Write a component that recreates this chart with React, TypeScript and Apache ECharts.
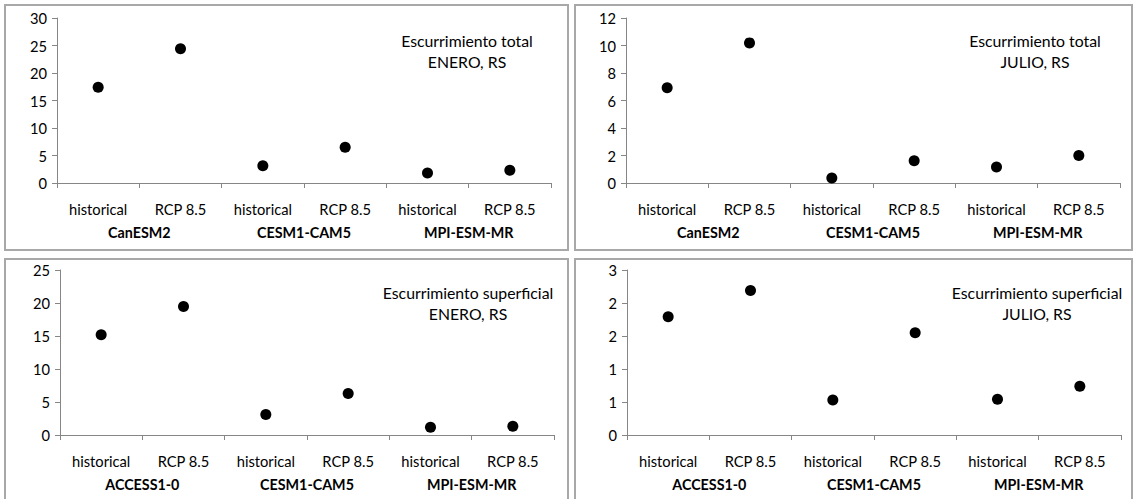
import React, { useEffect, useRef } from "react";
import * as echarts from "echarts";

const categories = ["historical", "RCP 8.5", "historical", "RCP 8.5", "historical", "RCP 8.5"];
const groupsTop = ["CanESM2", "CESM1-CAM5", "MPI-ESM-MR"];
const groupsBottom = ["ACCESS1-0", "CESM1-CAM5", "MPI-ESM-MR"];

const totalEnero = [17.4, 24.4, 3.15, 6.5, 1.8, 2.3];
const totalJulio = [6.93, 10.19, 0.36, 1.62, 1.16, 2.0];
const superficialEnero = [15.19, 19.46, 3.1, 6.3, 1.17, 1.32];
const superficialJulio = [1.79, 2.19, 0.53, 1.55, 0.54, 0.74];

const panelTitles = [
  ["Escurrimiento total", "ENERO, RS"],
  ["Escurrimiento total", "JULIO, RS"],
  ["Escurrimiento superficial", "ENERO, RS"],
  ["Escurrimiento superficial", "JULIO, RS"],
];

const yMax = [30, 12, 25, 2.5];
const yStep = [5, 2, 5, 0.5];

const FONT = "Lato";
const TXT = "#000000";
const AX = "#868686";

export default function App() {
  const ref = useRef<HTMLDivElement>(null);
  useEffect(() => {
    if (!ref.current) return;
    const chart = echarts.init(ref.current, null, { renderer: "svg" });

    const grids = [
      { left: 57, top: 18, width: 494, height: 165 },
      { left: 626, top: 18, width: 494, height: 165 },
      { left: 60, top: 270, width: 494, height: 165 },
      { left: 627, top: 270, width: 494, height: 165 },
    ];
    const seriesData = [totalEnero, totalJulio, superficialEnero, superficialJulio];
    const groupNames = [groupsTop, groupsTop, groupsBottom, groupsBottom];

    const xAxis: any[] = [];
    const yAxis: any[] = [];
    const series: any[] = [];
    grids.forEach((g, i) => {
      xAxis.push({
        type: "category",
        gridIndex: i,
        data: categories,
        position: "bottom",
        axisLine: { lineStyle: { color: AX, width: 1 } },
        axisTick: { show: true, length: 5, lineStyle: { color: AX } },
        axisLabel: { color: TXT, fontFamily: FONT, fontSize: 14.7, margin: 18 },
        splitLine: { show: false },
      });
      xAxis.push({
        type: "category",
        gridIndex: i,
        data: groupNames[i],
        position: "bottom",
        offset: 24,
        axisLine: { show: false },
        axisTick: { show: false },
        axisLabel: { color: TXT, fontFamily: FONT, fontSize: 14.3, fontWeight: "bold", margin: 18 },
        splitLine: { show: false },
      });
      yAxis.push({
        type: "value",
        gridIndex: i,
        min: 0,
        max: yMax[i],
        interval: yStep[i],
        axisLine: { show: true, lineStyle: { color: AX, width: 1 } },
        axisTick: { show: true, length: 5, lineStyle: { color: AX } },
        axisLabel: {
          color: TXT,
          fontFamily: FONT,
          fontSize: 14.7,
          margin: 10,
          formatter: i === 3 ? (v: number) => String(Math.round(v)) : undefined,
        },
        splitLine: { show: false },
      });
      series.push({
        type: "scatter",
        xAxisIndex: i * 2,
        yAxisIndex: i,
        data: seriesData[i],
        symbol: "circle",
        symbolSize: 11,
        itemStyle: { color: "#000000", opacity: 1 },
      });
    });

    const borders = [
      { x: 5, y: 5, w: 563, h: 245 },
      { x: 575, y: 5, w: 557, h: 245 },
      { x: 5, y: 259, w: 563, h: 245 },
      { x: 575, y: 259, w: 557, h: 245 },
    ];
    const titleCenters = [
      { x: 467, y: 40 },
      { x: 1035, y: 40 },
      { x: 468, y: 292 },
      { x: 1037, y: 292 },
    ];
    const graphic: any[] = [];
    borders.forEach((b) => {
      graphic.push({
        type: "rect",
        shape: { x: b.x, y: b.y, width: b.w, height: b.h },
        style: { fill: "none", stroke: "#a8a8a8", lineWidth: 2 },
        silent: true,
      });
    });
    titleCenters.forEach((c, i) => {
      panelTitles[i].forEach((t, j) => {
        graphic.push({
          type: "text",
          x: c.x,
          y: c.y + j * 21,
          style: {
            text: t,
            fill: TXT,
            font: `15.8px ${FONT}`,
            textAlign: "center",
            textVerticalAlign: "middle",
          },
          silent: true,
        });
      });
    });

    chart.setOption({
      animation: false,
      backgroundColor: "#ffffff",
      grid: grids,
      xAxis,
      yAxis,
      series,
      graphic,
    });
    return () => chart.dispose();
  }, []);

  return (
    <div
      ref={ref}
      style={{ position: "fixed", left: 0, top: 0, width: 1135, height: 499, background: "#fff" }}
    />
  );
}
